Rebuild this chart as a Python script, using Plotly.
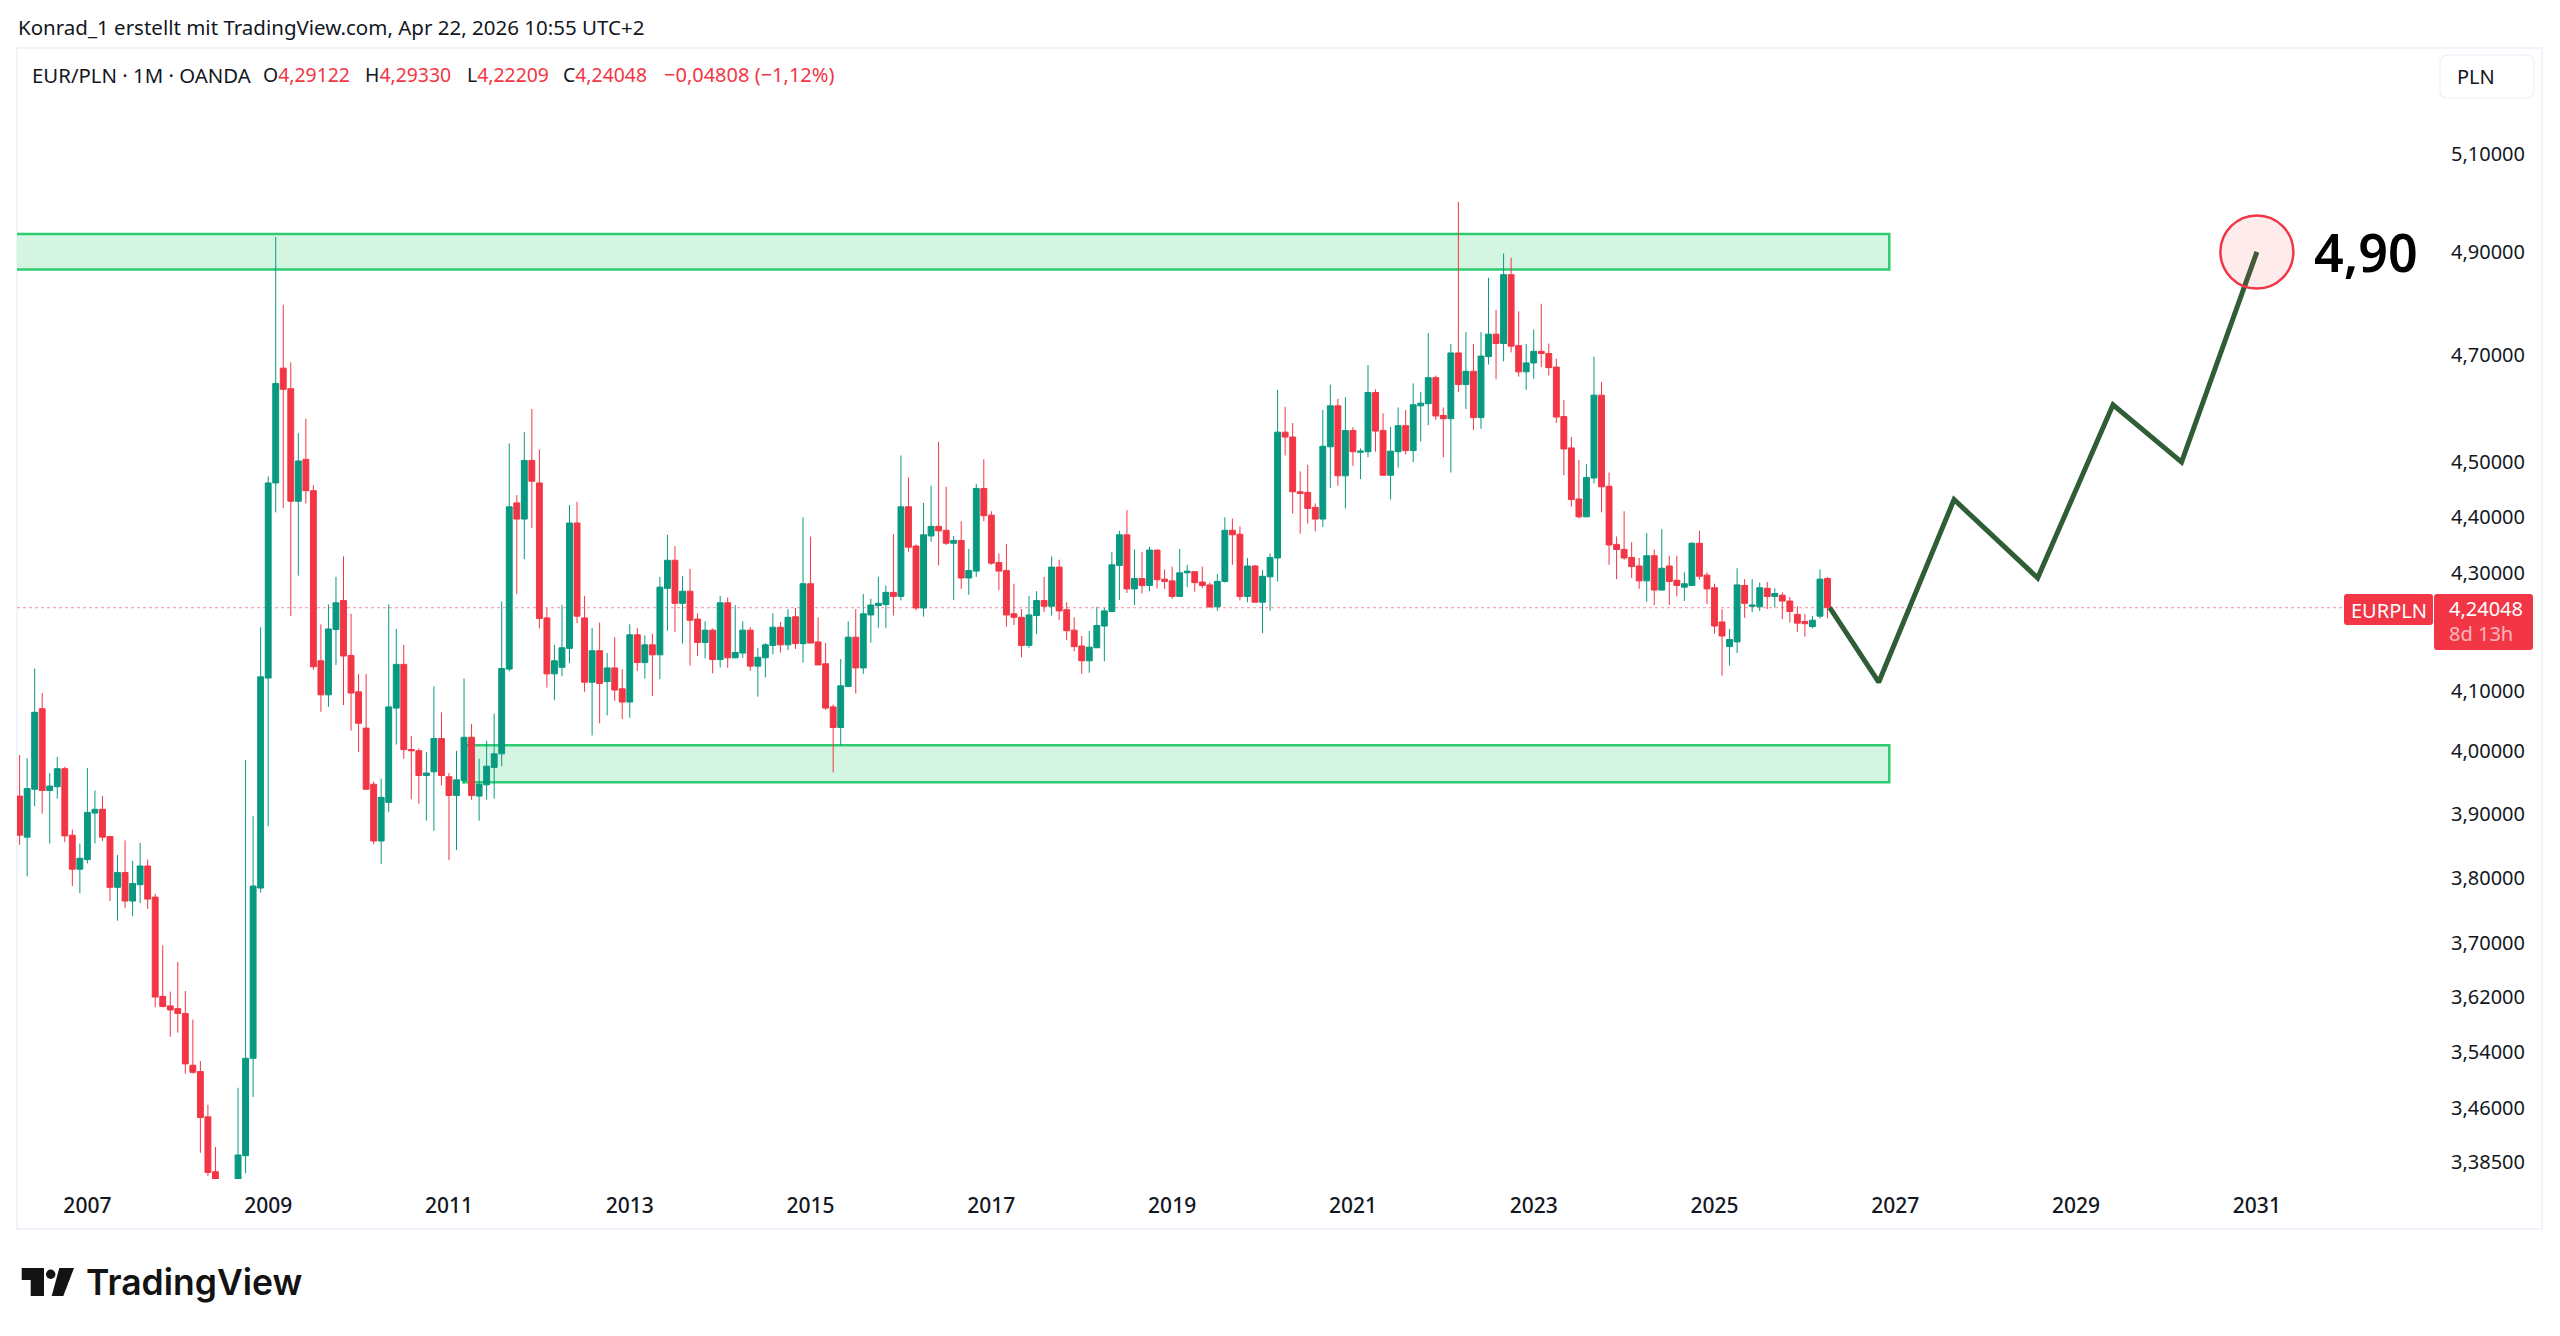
import math
import plotly.graph_objects as go

# Monthly EUR/PLN candles, Apr 2006 to Apr 2026, indexed by month number
opens = [
    3.928,3.863,3.939,4.070,3.937,3.943,3.972,3.866,3.813,3.828,
    3.901,3.907,3.864,3.785,3.808,3.764,3.789,3.818,3.770,3.621,
    3.607,3.603,3.596,3.521,3.512,3.448,3.372,3.345,3.210,3.290,
    3.394,3.531,3.784,4.121,4.461,4.674,4.635,4.428,4.504,4.447,
    4.150,4.093,4.203,4.253,4.159,4.098,4.038,3.947,3.857,3.918,
    4.071,4.144,4.003,4.001,3.961,3.967,4.021,3.959,3.929,3.953,
    4.023,3.928,3.946,3.974,3.996,4.136,4.425,4.396,4.502,4.461,
    4.223,4.128,4.139,4.171,4.389,4.223,4.114,4.167,4.115,4.138,
    4.103,4.081,4.194,4.147,4.177,4.160,4.274,4.323,4.248,4.269,
    4.221,4.181,4.202,4.152,4.249,4.155,4.163,4.202,4.141,4.155,
    4.176,4.207,4.177,4.225,4.179,4.282,4.182,4.145,4.073,4.039,
    4.107,4.190,4.138,4.228,4.244,4.246,4.267,4.260,4.418,4.348,
    4.240,4.366,4.383,4.376,4.353,4.358,4.292,4.304,4.451,4.403,
    4.319,4.305,4.230,4.224,4.176,4.227,4.253,4.243,4.311,4.237,
    4.202,4.175,4.150,4.172,4.209,4.234,4.314,4.368,4.273,4.291,
    4.279,4.341,4.290,4.287,4.260,4.301,4.303,4.285,4.280,4.242,
    4.286,4.376,4.369,4.260,4.313,4.250,4.294,4.327,4.554,4.545,
    4.445,4.444,4.417,4.396,4.527,4.603,4.474,4.557,4.517,4.518,
    4.628,4.557,4.475,4.518,4.566,4.520,4.603,4.607,4.656,4.585,
    4.579,4.703,4.643,4.668,4.581,4.696,4.739,4.721,4.855,4.717,
    4.667,4.684,4.706,4.702,4.676,4.583,4.525,4.432,4.400,4.470,
    4.623,4.455,4.351,4.342,4.328,4.313,4.287,4.331,4.271,4.313,
    4.288,4.276,4.279,4.353,4.297,4.275,4.216,4.174,4.182,4.279,
    4.243,4.242,4.274,4.260,4.262,4.252,4.229,4.217,4.208,4.226,
    4.29122,
]
highs = [
    3.994,3.989,4.137,4.096,3.965,3.991,3.975,3.875,3.853,3.973,
    3.937,3.928,3.865,3.835,3.858,3.826,3.854,3.828,3.775,3.697,
    3.628,3.672,3.629,3.587,3.527,3.465,3.406,3.358,3.355,3.489,
    3.986,3.896,4.207,4.473,4.930,4.796,4.685,4.552,4.579,4.457,
    4.212,4.246,4.294,4.330,4.230,4.128,4.128,3.951,3.956,4.246,
    4.204,4.177,4.025,4.005,3.999,4.107,4.064,3.965,4.001,4.120,
    4.045,3.988,4.017,4.062,4.251,4.533,4.439,4.554,4.597,4.522,
    4.240,4.177,4.245,4.421,4.427,4.261,4.206,4.215,4.163,4.190,
    4.136,4.212,4.206,4.193,4.196,4.294,4.368,4.348,4.295,4.308,
    4.231,4.217,4.205,4.261,4.258,4.245,4.217,4.207,4.172,4.180,
    4.231,4.216,4.238,4.240,4.399,4.365,4.224,4.180,4.077,4.153,
    4.217,4.238,4.264,4.256,4.294,4.279,4.369,4.511,4.471,4.351,
    4.425,4.456,4.536,4.454,4.366,4.392,4.343,4.459,4.504,4.410,
    4.335,4.352,4.282,4.238,4.261,4.269,4.294,4.330,4.324,4.250,
    4.224,4.192,4.201,4.242,4.240,4.338,4.375,4.412,4.342,4.338,
    4.347,4.341,4.307,4.312,4.343,4.315,4.304,4.312,4.284,4.299,
    4.399,4.397,4.383,4.327,4.315,4.306,4.335,4.633,4.601,4.571,
    4.482,4.494,4.424,4.595,4.643,4.616,4.619,4.563,4.524,4.680,
    4.634,4.589,4.564,4.600,4.595,4.645,4.629,4.741,4.660,4.600,
    4.720,5.001,4.743,4.720,4.743,4.849,4.786,4.897,4.889,4.783,
    4.720,4.748,4.798,4.721,4.692,4.614,4.545,4.503,4.495,4.696,
    4.648,4.480,4.365,4.410,4.355,4.327,4.371,4.342,4.378,4.331,
    4.331,4.302,4.355,4.375,4.302,4.282,4.238,4.204,4.309,4.290,
    4.290,4.284,4.285,4.274,4.267,4.259,4.243,4.230,4.226,4.307,
    4.29330,
]
lows = [
    3.851,3.802,3.912,3.900,3.853,3.924,3.855,3.787,3.776,3.822,
    3.853,3.857,3.764,3.734,3.753,3.741,3.761,3.752,3.605,3.605,
    3.562,3.568,3.509,3.509,3.398,3.366,3.330,3.195,3.200,3.270,
    3.370,3.476,3.777,3.880,4.408,4.416,4.226,4.296,4.424,4.135,
    4.065,4.073,4.143,4.076,4.034,3.999,3.938,3.852,3.821,3.903,
    4.011,3.988,3.923,3.916,3.889,3.873,3.945,3.827,3.843,3.948,
    3.922,3.889,3.922,3.924,3.976,4.132,4.264,4.325,4.380,4.205,
    4.105,4.084,4.124,4.146,4.214,4.098,4.026,4.046,4.059,4.083,
    4.053,4.055,4.133,4.120,4.091,4.119,4.201,4.199,4.179,4.142,
    4.158,4.154,4.129,4.139,4.138,4.154,4.155,4.133,4.090,4.122,
    4.161,4.164,4.168,4.170,4.147,4.180,4.143,4.068,3.966,4.010,
    4.106,4.095,4.128,4.181,4.206,4.206,4.227,4.253,4.338,4.236,
    4.225,4.356,4.314,4.350,4.254,4.273,4.263,4.294,4.392,4.315,
    4.271,4.208,4.211,4.156,4.172,4.195,4.233,4.227,4.219,4.185,
    4.166,4.128,4.130,4.172,4.149,4.234,4.254,4.266,4.245,4.265,
    4.269,4.274,4.273,4.256,4.259,4.276,4.268,4.274,4.240,4.235,
    4.284,4.315,4.253,4.250,4.249,4.197,4.235,4.286,4.511,4.406,
    4.370,4.388,4.374,4.382,4.452,4.456,4.415,4.492,4.468,4.508,
    4.518,4.475,4.431,4.489,4.513,4.499,4.537,4.567,4.577,4.508,
    4.480,4.629,4.597,4.558,4.560,4.681,4.653,4.687,4.704,4.658,
    4.633,4.654,4.676,4.660,4.571,4.475,4.418,4.397,4.400,4.460,
    4.408,4.315,4.290,4.324,4.292,4.273,4.251,4.245,4.270,4.245,
    4.260,4.252,4.278,4.289,4.247,4.196,4.125,4.142,4.163,4.223,
    4.233,4.235,4.238,4.241,4.221,4.215,4.199,4.191,4.205,4.222,
    4.22209,
]
closes = [
    3.866,3.940,4.064,3.937,3.944,3.972,3.865,3.813,3.830,3.902,
    3.907,3.863,3.785,3.808,3.764,3.791,3.818,3.767,3.620,3.606,
    3.601,3.596,3.523,3.511,3.447,3.371,3.345,3.210,3.290,3.395,
    3.531,3.787,4.123,4.461,4.645,4.634,4.428,4.501,4.447,4.140,
    4.093,4.204,4.249,4.158,4.096,4.046,3.939,3.857,3.926,4.073,
    4.144,4.003,4.001,3.961,3.965,4.021,3.961,3.929,3.954,4.023,
    3.929,3.947,3.976,3.996,4.137,4.418,4.396,4.502,4.464,4.222,
    4.128,4.150,4.172,4.389,4.226,4.114,4.167,4.112,4.138,4.101,
    4.081,4.194,4.147,4.177,4.160,4.276,4.323,4.248,4.269,4.219,
    4.181,4.202,4.152,4.249,4.155,4.164,4.202,4.141,4.156,4.177,
    4.207,4.177,4.224,4.179,4.282,4.180,4.143,4.071,4.039,4.108,
    4.190,4.138,4.230,4.245,4.248,4.267,4.260,4.418,4.346,4.240,
    4.368,4.383,4.375,4.353,4.358,4.292,4.305,4.451,4.402,4.318,
    4.304,4.228,4.224,4.176,4.228,4.253,4.243,4.311,4.235,4.201,
    4.174,4.150,4.173,4.210,4.235,4.315,4.368,4.273,4.291,4.279,
    4.341,4.289,4.286,4.260,4.301,4.304,4.284,4.279,4.242,4.286,
    4.376,4.368,4.260,4.313,4.250,4.295,4.328,4.554,4.545,4.445,
    4.442,4.415,4.396,4.528,4.603,4.474,4.557,4.518,4.519,4.628,
    4.556,4.475,4.519,4.566,4.520,4.605,4.608,4.656,4.584,4.579,
    4.703,4.643,4.668,4.581,4.697,4.739,4.721,4.855,4.716,4.667,
    4.684,4.706,4.702,4.675,4.582,4.523,4.431,4.400,4.471,4.623,
    4.454,4.350,4.342,4.327,4.312,4.287,4.331,4.271,4.309,4.286,
    4.279,4.282,4.353,4.295,4.273,4.209,4.192,4.186,4.280,4.248,
    4.245,4.275,4.260,4.265,4.252,4.234,4.214,4.213,4.219,4.290,
    4.24048,
]
months = list(range(len(closes)))

# Hand-drawn projection after the last candle
path_months = [240.3, 246.8, 256.8, 267.9, 277.9, 287.0, 297.0]
path_prices = [4.2405, 4.114, 4.431, 4.292, 4.605, 4.499, 4.90]

# Support and resistance zones: first month, last month, top price, bottom price
resistance_zone = (-5, 248.2, 4.936, 4.865)
support_zone = (58.9, 248.2, 4.010, 3.950)

price_ticks = [5.10, 4.90, 4.70, 4.50, 4.40, 4.30, 4.10, 4.00, 3.90, 3.80, 3.70, 3.62, 3.54, 3.46, 3.385]
price_labels = ["5,10000", "4,90000", "4,70000", "4,50000", "4,40000", "4,30000", "4,10000", "4,00000",
                "3,90000", "3,80000", "3,70000", "3,62000", "3,54000", "3,46000", "3,38500"]
tick_years = [2007, 2009, 2011, 2013, 2015, 2017, 2019, 2021, 2023, 2025, 2027, 2029, 2031]
last_close = 4.24048

GREEN = "#089981"
RED = "#F23645"
INK = "#131722"
ZONE = "#2ECC71"
PATH = "#2F5E36"
UI_FONT = "Noto Sans"

W, H = 2560, 1336
L, R, T, B = 17, 127, 48, 157


def pw(px):
    return (px - L) / (W - L - R)


def ph(py):
    return 1 - (py - T) / (H - T - B)


def box(x0, y0, x1, y1, fill, line=None, radius=0, layer="above", width=1):
    """Paper-anchored rounded rectangle given in page pixels."""
    r = radius
    d = (f"M {pw(x0 + r)} {ph(y0)} L {pw(x1 - r)} {ph(y0)} Q {pw(x1)} {ph(y0)} {pw(x1)} {ph(y0 + r)} "
         f"L {pw(x1)} {ph(y1 - r)} Q {pw(x1)} {ph(y1)} {pw(x1 - r)} {ph(y1)} "
         f"L {pw(x0 + r)} {ph(y1)} Q {pw(x0)} {ph(y1)} {pw(x0)} {ph(y1 - r)} "
         f"L {pw(x0)} {ph(y0 + r)} Q {pw(x0)} {ph(y0)} {pw(x0 + r)} {ph(y0)} Z")
    return dict(type="path", xref="paper", yref="paper", path=d, fillcolor=fill, layer=layer,
                line=dict(color=line or "rgba(0,0,0,0)", width=width))


def poly(points, fill):
    d = "M " + " L ".join(f"{pw(x)} {ph(y)}" for x, y in points) + " Z"
    return dict(type="path", xref="paper", yref="paper", path=d, fillcolor=fill, line=dict(width=0), layer="above")


def label(px, py, text, color=INK, size=20, weight=400, family=UI_FONT, anchor="left"):
    return dict(xref="paper", yref="paper", x=pw(px), y=ph(py), text=text, showarrow=False,
                xanchor=anchor, yanchor="middle", align=anchor, borderpad=0, borderwidth=0,
                font=dict(color=color, size=size, family=family, weight=weight))


fig = go.Figure()
fig.add_trace(go.Candlestick(
    x=months, open=opens, high=highs, low=lows, close=closes,
    increasing=dict(line=dict(color=GREEN, width=1), fillcolor=GREEN),
    decreasing=dict(line=dict(color=RED, width=1), fillcolor=RED),
    showlegend=False, hoverinfo="skip",
))
fig.add_trace(go.Scatter(
    x=path_months, y=path_prices, mode="lines", showlegend=False, hoverinfo="skip",
    line=dict(color=PATH, width=5),
))
fig.add_trace(go.Scatter(
    x=[path_months[-1]], y=[path_prices[-1]], mode="markers", showlegend=False, hoverinfo="skip",
    marker=dict(size=73, color="rgba(242,54,69,0.1)", line=dict(color=RED, width=2.5)),
    cliponaxis=False,
))

shapes = [
    box(L, T, 2542, 1229, "rgba(0,0,0,0)", line="#F0F3FA", layer="below", width=2),
    dict(type="line", xref="paper", yref="y", x0=0, x1=1, y0=last_close, y1=last_close, layer="below",
         line=dict(color="rgba(242,54,69,0.55)", width=1, dash="dot")),
]
for x0, x1, top, bottom in (resistance_zone, support_zone):
    shapes.append(dict(type="rect", xref="x", yref="y", x0=x0, x1=x1, y0=bottom, y1=top, layer="below",
                       fillcolor="#D4F5E2", line=dict(color=ZONE, width=2.5)))

# Last-price tags and currency button on the price scale
shapes += [
    box(2344, 594, 2433, 625, RED, radius=3),
    box(2434, 594, 2533, 650, RED, radius=3),
    box(2440, 55, 2534, 98, "#FFFFFF", line="#F0F3FA", radius=8, width=1.5),
]

# TradingView mark
shapes += [
    poly([(21.7, 1268), (44, 1268), (44, 1296), (30.7, 1296), (30.7, 1280), (21.7, 1280)], "#131313"),
    dict(type="circle", xref="paper", yref="paper", x0=pw(46), x1=pw(55.4), y0=ph(1279), y1=ph(1269.6),
         fillcolor="#131313", line=dict(width=0), layer="above"),
    poly([(59.3, 1268), (74, 1268), (63.3, 1296), (51.7, 1296)], "#131313"),
]

red_span = lambda s: f'<span style="color:{RED}">{s}</span>'
annotations = [
    label(18, 27, "Konrad_1 erstellt mit TradingView.com, Apr 22, 2026 10:55 UTC+2", size=20.5),
    label(32, 75, "EUR/PLN · 1M · OANDA", size=20.4),
    label(263, 75, "O" + red_span("4,29122"), size=19.4),
    label(365, 75, "H" + red_span("4,29330"), size=19.4),
    label(467, 75, "L" + red_span("4,22209"), size=19.4),
    label(563, 75, "C" + red_span("4,24048"), size=19.4),
    label(664, 75, red_span("−0,04808 (−1,12%)"), size=20),
    label(2457, 76, "PLN", size=20),
    label(2388.5, 610, "EURPLN", color="#FFFFFF", size=20, anchor="center"),
    label(2449, 608, "4,24048", color="#FFFFFF", size=20),
    label(2449, 633, "8d 13h", color="rgba(255,255,255,0.65)", size=20),
    label(86, 1282, "TradingView", color="#131313", size=35.5, weight=600, family="Inter"),
    # Annotations on a log axis take the exponent as their y position
    dict(xref="x", yref="y", x=304.3, y=math.log10(path_prices[-1]), text="4,90", showarrow=False,
         xanchor="left", yanchor="middle",
         font=dict(color="#000000", size=52, family=UI_FONT, weight=600)),
]

fig.update_layout(
    width=W, height=H, autosize=False,
    margin=dict(l=L, r=R, t=T, b=B, pad=0),
    paper_bgcolor="#FFFFFF", plot_bgcolor="#FFFFFF",
    boxgap=0.22, boxgroupgap=0, showlegend=False, dragmode=False,
    shapes=shapes, annotations=annotations,
    xaxis=dict(
        type="linear", range=[-0.345, 320.38], rangeslider=dict(visible=False),
        tickmode="array", tickvals=[(y - 2006) * 12 - 3 for y in tick_years],
        ticktext=[str(y) for y in tick_years],
        showgrid=False, zeroline=False, showline=False,
        ticks="outside", ticklen=8, tickcolor="rgba(0,0,0,0)",
        tickfont=dict(color=INK, size=21, family=UI_FONT, weight=500),
    ),
    yaxis=dict(
        type="log", side="right",
        range=[math.log10(3.362), math.log10(5.3234)],
        tickmode="array", tickvals=price_ticks, ticktext=price_labels,
        showgrid=False, zeroline=False, showline=False,
        ticks="outside", ticklen=13, tickcolor="rgba(0,0,0,0)",
        tickfont=dict(color=INK, size=20, family=UI_FONT),
    ),
)

fig.write_html("out.html", config=dict(displayModeBar=False))
